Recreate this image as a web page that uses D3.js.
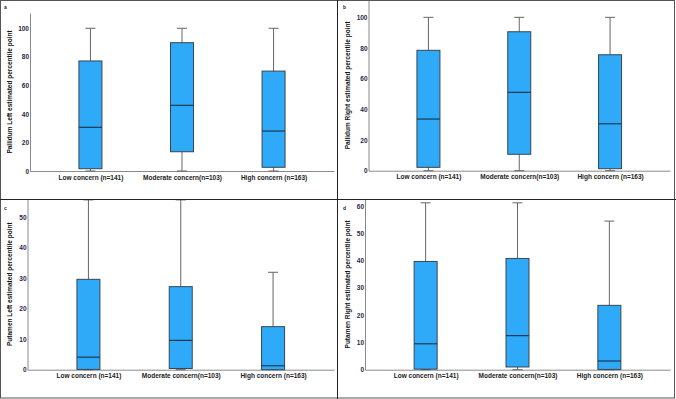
<!DOCTYPE html>
<html>
<head>
<meta charset="utf-8">
<script src="https://cdn.jsdelivr.net/npm/d3@7"></script>
<style>
  body { margin: 0; background: #fff; }
  svg { display: block; font-family: "Liberation Sans", Arial, sans-serif; }
</style>
</head>
<body>
<div id="chart"></div>
<script>
/* 2x2 box plots, percentile points by concern group */

const width = 676, height = 399;

const groups = ["Low concern (n=141)", "Moderate concern(n=103)", "High concern (n=163)"];

// [min, q1, median, q3, max] per group
const pallidumLeft  = [[0, 1.6, 30.6, 77.1, 100], [0, 13.5, 46, 89.9, 100], [0, 2.6, 28, 70, 100]];
const pallidumRight = [[0, 2.2, 33.7, 78.5, 100], [0, 10.7, 51.1, 90.6, 100], [0, 1.3, 30.6, 75.6, 100]];
const putamenLeft   = [[0, 0.1, 4.1, 29.6, 55.6], [0, 0.4, 9.6, 27.2, 55.6], [0, 0, 1.3, 14.1, 31.9]];
const putamenRight  = [[0, 0.2, 9.5, 39.7, 61.2], [0, 1.0, 12.5, 40.8, 61.2], [0, 0.1, 3.2, 23.6, 54.5]];

const ticks100 = [0, 20, 40, 60, 80, 100];
const ticks50  = [0, 10, 20, 30, 40, 50];
const ticks60  = [0, 10, 20, 30, 40, 50, 60];

const titles = ["Pallidum Left estimated percentile point", "Pallidum Right estimated percentile point",
                "Putamen Left estimated percentile point", "Putamen Right estimated percentile point"];
const letters = ["a", "b", "c", "d"];

const panels = [
  { data: pallidumLeft,  ticks: ticks100, yMax: 110.7, x0: 30,    x1: 334, yb: 171,   yt: 13,    lx: 4,   ly: 9 },
  { data: pallidumRight, ticks: ticks100, yMax: 111.3, x0: 368.5, x1: 670, yb: 170.7, yt: 0,     lx: 343, ly: 9 },
  { data: putamenLeft,   ticks: ticks50,  yMax: 56,    x0: 27.5,  x1: 334, yb: 369.7, yt: 198.7, lx: 4,   ly: 210 },
  { data: putamenRight,  ticks: ticks60,  yMax: 62.6,  x0: 365,   x1: 670, yb: 369.7, yt: 199,   lx: 343, ly: 210 }
];

const svg = d3.select("#chart")
  .append("svg")
  .attr("width", width)
  .attr("height", height);

panels.forEach((p, i) => {
  const g = svg.append("g");

  let x = d3.scalePoint()
    .domain(groups)
    .range([p.x0, p.x1])
    .padding(0.66);

  let y = d3.scaleLinear()
    .domain([0, p.yMax])
    .range([p.yb, p.yt]);

  // y axis: bare line, labels only
  g.append("g")
    .attr("transform", `translate(${p.x0},0)`)
    .call(d3.axisLeft(y).tickValues(p.ticks).tickSize(0).tickPadding(1))
    .call(a => a.select(".domain").attr("stroke", "#8a8a8a"))
    .call(a => a.selectAll("text")
      .attr("font-size", "6.5px")
      .attr("font-weight", "bold")
      .attr("fill", "#1f2a44"));

  // x axis
  g.append("g")
    .attr("transform", `translate(0,${p.yb})`)
    .call(d3.axisBottom(x).tickSize(0).tickPadding(4).tickSizeOuter(0))
    .call(a => a.select(".domain").attr("stroke", "#8a8a8a"))
    .call(a => a.selectAll("text")
      .attr("font-size", "6.5px")
      .attr("font-weight", "bold")
      .attr("fill", "#222"));

  const boxW = 23, capW = 10;

  const box = g.selectAll(".box")
    .data(p.data.map((d, j) => ({ g: groups[j], v: d })))
    .enter().append("g")
    .attr("class", "box")
    .attr("transform", d => `translate(${x(d.g)},0)`);

  // whisker
  box.append("line")
    .attr("y1", d => y(d.v[0])).attr("y2", d => y(d.v[4]))
    .attr("stroke", "#666").attr("stroke-width", 1);
  box.selectAll(".cap")
    .data(d => [d.v[0], d.v[4]])
    .enter().append("line")
    .attr("x1", -capW / 2).attr("x2", capW / 2)
    .attr("y1", d => y(d)).attr("y2", d => y(d))
    .attr("stroke", "#666").attr("stroke-width", 1);

  box.append("rect")
    .attr("x", -boxW / 2)
    .attr("width", boxW)
    .attr("y", d => y(d.v[3]))
    .attr("height", d => Math.max(0.5, y(d.v[1]) - y(d.v[3])))
    .attr("fill", "#2eaaf8")
    .attr("stroke", "#3a4652")
    .attr("stroke-width", 1);

  box.append("line")                                           // median
    .attr("x1", -boxW / 2).attr("x2", boxW / 2)
    .attr("y1", d => y(d.v[2])).attr("y2", d => y(d.v[2]))
    .attr("stroke", "#1c3950").attr("stroke-width", 1.2);

  g.append("text")                                             // y-label
    .attr("transform", `translate(${i % 2 ? 348 : 10},${(p.yb + p.yt) / 2}) rotate(-90)`)
    .attr("text-anchor", "middle")
    .attr("dy", "0.35em")
    .attr("font-size", "6.5px")
    .attr("font-weight", "bold")
    .attr("fill", "#111")
    .text(titles[i]);

  g.append("text")                                             // panel letter
    .attr("x", p.lx)
    .attr("y", p.ly)
    .attr("font-size", "5px")
    .attr("font-weight", "bold")
    .attr("fill", "#222")
    .text(letters[i]);
});

// panel frames
svg.append("rect")
  .attr("x", 0.5).attr("y", 0.5)
  .attr("width", 674).attr("height", 397.5)
  .attr("fill", "none").attr("stroke", "#555");
svg.append("line")
  .attr("x1", 337.5).attr("x2", 337.5).attr("y1", 0).attr("y2", height)
  .attr("stroke", "#222");
svg.append("line")
  .attr("x1", 0).attr("x2", width).attr("y1", 199.5).attr("y2", 199.5)
  .attr("stroke", "#222");
</script>
</body>
</html>
